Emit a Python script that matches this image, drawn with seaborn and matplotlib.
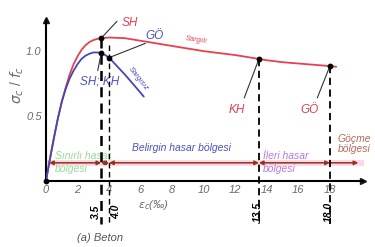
import numpy as np
import pandas as pd
import matplotlib
matplotlib.use("Agg")
import matplotlib.pyplot as plt
import seaborn as sns

# ---- data ----
eps_sargili = [0, 0.25, 0.5, 0.75, 1.0, 1.25, 1.5, 1.75, 2.0, 2.25, 2.5, 2.75, 3.0, 3.25, 3.5, 4.0,
               5.0, 6.0, 7.0, 8.0, 9.0, 10.0, 11.0, 12.0, 13.0, 13.5, 14.0, 15.0, 16.0, 17.0, 18.0, 18.4]
sig_sargili = [0, 0.17, 0.33, 0.48, 0.61, 0.72, 0.82, 0.90, 0.96, 1.01, 1.045, 1.07, 1.085, 1.095, 1.10, 1.105,
               1.10, 1.08, 1.06, 1.04, 1.02, 1.00, 0.985, 0.97, 0.95, 0.94, 0.93, 0.915, 0.905, 0.895, 0.885, 0.88]
eps_sargisiz = [0, 0.25, 0.5, 0.75, 1.0, 1.25, 1.5, 1.75, 2.0, 2.25, 2.5, 2.75, 3.0, 3.25, 3.5, 3.75,
                4.0, 4.5, 5.0, 5.5, 6.2]
sig_sargisiz = [0, 0.17, 0.33, 0.48, 0.61, 0.71, 0.79, 0.85, 0.90, 0.94, 0.965, 0.98, 0.99, 0.99, 0.985, 0.97,
                0.95, 0.885, 0.82, 0.75, 0.65]

pt_eps = [3.5, 3.5, 4.0, 13.5, 18.0]
pt_sig = [1.10, 0.985, 0.95, 0.94, 0.885]
pt_lbl = ["SH", "SH; KH", "GÖ", "KH", "GÖ"]
pt_col = ["#e0404e", "#5050c0", "#5050c0", "#e0404e", "#e0404e"]
lbl_pos = [(5.3, 1.22), (3.4, 0.77), (6.9, 1.12), (12.1, 0.55), (16.7, 0.55)]
lead_end = [(4.5, 1.23), (3.28, 0.85), (6.3, 1.06), (12.57, 0.64), (17.2, 0.64)]

limit_eps = [3.5, 4.0, 13.5, 18.0]
limit_top = [1.10, 1.05, 0.94, 0.885]
limit_lbl = ["3.5", "4.0", "13.5", "18.0"]
limit_lw = [1.8, 1.0, 1.3, 1.3]

zone_edges = [0.2, 3.5, 4.0, 13.5, 18.0, 19.8]
x_ticks = [0, 2, 4, 6, 8, 10, 12, 14, 16, 18]
y_ticks = [0.25, 0.5, 0.75, 1.0]
y_ticklabels = ["", "0.5", "", "1.0"]

sns.set_theme(style="white")
plt.rcParams["font.family"] = ["Liberation Sans", "DejaVu Sans"]

fig = plt.figure(figsize=(3.75, 2.47), dpi=100)
ax = fig.add_axes([46/375, 1-181/247, (363-46)/375, (181-20)/247])

RED = "#e8404c"
BLUE = "#4646b4"

df1 = pd.DataFrame({"eps": eps_sargili, "sig": sig_sargili})
df2 = pd.DataFrame({"eps": eps_sargisiz, "sig": sig_sargisiz})
sns.lineplot(data=df1, x="eps", y="sig", ax=ax, color=RED, lw=1.3, sort=False, zorder=4)
sns.lineplot(data=df2, x="eps", y="sig", ax=ax, color=BLUE, lw=1.3, sort=False, zorder=4)

ax.set_xlim(0, 20.1)
ax.set_ylim(0, 1.24)

# pink band + zone arrows
ax.fill_between([0.0, 20.2], 0.115, 0.165, color="#ffd8e6", zorder=1, lw=0)
ARC = "#8e3418"
for i in range(len(zone_edges) - 1):
    style = "<|-|>" if i < len(zone_edges) - 2 else "-|>"
    ax.annotate("", xy=(zone_edges[i+1], 0.14), xytext=(zone_edges[i], 0.14),
                arrowprops=dict(arrowstyle=style, color=ARC, lw=1.1, mutation_scale=6,
                                shrinkA=0, shrinkB=0), zorder=3)

# dashed limit lines
for e, t, l, w in zip(limit_eps, limit_top, limit_lbl, limit_lw):
    ax.plot([e, e], [t, -0.33], color="black", lw=w, ls=(0, (4, 2.5)), clip_on=False, zorder=5)
for e, l in zip(limit_eps, limit_lbl):
    dx = -0.35 if l == "3.5" else (0.45 if l == "4.0" else -0.05)
    ax.text(e + dx, -0.24, l, rotation=90, ha="center", va="center", fontsize=7.5,
            fontweight="bold", color="black", style="italic")

# points, labels, leaders
ax.scatter(pt_eps, pt_sig, s=10, color="black", zorder=6)
ax.scatter([0], [0], s=10, color="black", zorder=6, clip_on=False)
for (lx, ly), (ex, ey), px, py, lb, c in zip(lbl_pos, lead_end, pt_eps, pt_sig, pt_lbl, pt_col):
    ax.plot([ex, px], [ey, py], color="#333333", lw=0.8, zorder=5)
    ax.text(lx, ly, lb, color=c, fontsize=8.5, style="italic", ha="center", va="center")

ax.text(9.5, 1.085, "Sargılı", color=RED, fontsize=5.5, style="italic", rotation=-8,
        ha="center", va="center")
ax.text(5.85, 0.79, "Sargısız", color=BLUE, fontsize=5.5, style="italic", rotation=-52,
        ha="center", va="center")

# zone labels
ax.text(0.55, 0.14, "Sınırlı hasar\nbölgesi", color="#96dc96", fontsize=7.5, style="italic",
        ha="left", va="center", linespacing=1.35)
ax.text(8.6, 0.255, "Belirgin hasar bölgesi", color="#5050c0", fontsize=7.5, style="italic",
        ha="center", va="center")
ax.text(13.75, 0.14, "İleri hasar\nbölgesi", color="#b878e0", fontsize=7.5, style="italic",
        ha="left", va="center", linespacing=1.35)
ax.text(18.5, 0.285, "Göçme\nbölgesi", color="#b86858", fontsize=7.5, style="italic",
        ha="left", va="center", linespacing=1.05)

# axes styling
for s in ["top", "right"]:
    ax.spines[s].set_visible(False)
for s in ["left", "bottom"]:
    ax.spines[s].set_color("black")
    ax.spines[s].set_linewidth(1.5)
ax.plot(1, 0, ">k", ms=4, transform=ax.transAxes, clip_on=False)
ax.plot(0, 1, "^k", ms=4, transform=ax.transAxes, clip_on=False)

ax.set_xticks(x_ticks)
ax.set_xticklabels([str(t) for t in x_ticks])
ax.set_yticks(y_ticks)
ax.set_yticklabels(y_ticklabels)
ax.tick_params(direction="in", length=4, width=1.2, colors="black", labelsize=8, pad=3)
for lab in ax.get_xticklabels() + ax.get_yticklabels():
    lab.set_color("#6a6a6a")
    lab.set_style("italic")
ax.set_xlabel("")
ax.set_ylabel("")
ax.text(6.8, -0.185, r"$\varepsilon_c$(‰)", color="#6a6a6a", fontsize=8, style="italic",
        ha="center", va="center")
fig.text(17/375, 1-85/247, r"$\sigma_c$ / $f_c$", rotation=90, color="#6a6a6a", fontsize=10,
         ha="center", va="center")
fig.text(100/375, 1-238/247, "(a) Beton", color="#555555", fontsize=8, style="italic",
         ha="center", va="center")

fig.savefig("out.png", dpi=100)
